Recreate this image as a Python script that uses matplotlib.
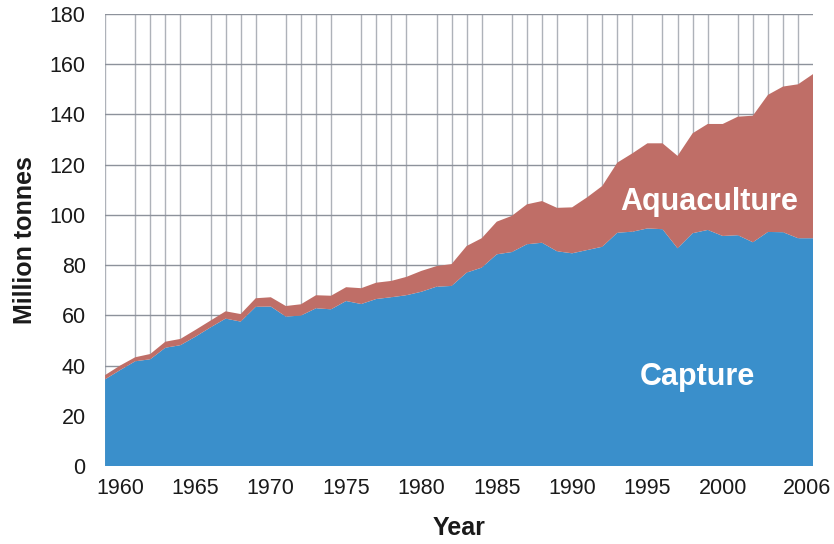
import matplotlib.pyplot as plt
from matplotlib.transforms import ScaledTranslation

plt.rcParams['font.family'] = ['Liberation Sans', 'DejaVu Sans']

# one value per gridline
years = list(range(1959, 2007))
capture = [34.5, 38.2, 41.7, 42.5, 47.1, 48.1, 51.5, 55.2, 58.7, 57.5,
           63.4, 63.5, 59.5, 59.9, 62.8, 62.4, 65.7, 64.5, 66.5, 67.2,
           68.0, 69.4, 71.4, 71.7, 77.0, 79.0, 84.3, 85.2, 88.3, 88.9,
           85.5, 84.7, 86.0, 87.3, 92.9, 93.3, 94.6, 94.3, 86.7, 92.7,
           94.0, 91.6, 91.9, 89.1, 93.2, 93.1, 90.7, 90.7]
total = [36.2, 40.0, 43.3, 44.6, 49.5, 50.6, 54.2, 57.9, 61.6, 60.5,
         66.8, 67.2, 63.7, 64.4, 68.0, 67.8, 71.2, 70.8, 73.0, 73.7,
         75.3, 77.7, 79.6, 80.4, 87.6, 90.7, 97.3, 99.6, 104.2, 105.5,
         102.8, 103.0, 107.0, 111.5, 120.8, 124.5, 128.5, 128.5, 123.5, 132.5,
         136.2, 136.2, 139.1, 139.5, 147.8, 151.1, 152.0, 156.1]
aquaculture = [t - c for t, c in zip(total, capture)]

tick_years = [1960, 1965, 1970, 1975, 1980, 1985, 1990, 1995, 2000, 2006]
y_ticks = list(range(0, 181, 20))

blue = '#3a8fcb'
red = '#bf6e67'

fig = plt.figure(figsize=(8.34, 5.44), dpi=100)
ax = fig.add_axes([0.126, 0.1434, 0.849, 0.8309])

ax.stackplot(years, capture, aquaculture, colors=[blue, red], linewidth=0)

ax.set_xlim(years[0], years[-1])
ax.set_ylim(0, 180)
ax.set_yticks(y_ticks)
ax.set_xticks(tick_years)
ax.set_xticks(years, minor=True)
ax.tick_params(axis='both', which='both', length=0, labelsize=15.5, colors='#1a1a1a')
ax.tick_params(axis='y', pad=14)
ax.tick_params(axis='x', pad=9)

# keep the last year label inside the figure
last = ax.get_xticklabels()[-1]
last.set_transform(last.get_transform() + ScaledTranslation(-6 / 100, 0, fig.dpi_scale_trans))

ax.set_axisbelow(True)
ax.grid(True, which='minor', axis='x', color='#aeb2b9', linewidth=1.0)
ax.grid(True, which='major', axis='y', color='#8d929b', linewidth=1.0)
for s in ax.spines.values():
    s.set_visible(False)

ax.set_ylabel('Million tonnes', fontsize=18, fontweight='bold', color='#1a1a1a')
ax.yaxis.set_label_coords(-0.113, 0.5)
ax.yaxis.label.set_va('center')
ax.set_xlabel('Year', fontsize=18, fontweight='bold', color='#1a1a1a')
ax.xaxis.set_label_coords(0.5, -0.137)
ax.xaxis.label.set_va('center')

ax.text(1998.3, 35.5, 'Capture', color='white', fontsize=22, fontweight='bold',
        ha='center', va='center')
ax.text(1999.1, 105.3, 'Aquaculture', color='white', fontsize=22, fontweight='bold',
        ha='center', va='center')

fig.savefig('out.png', dpi=100)
